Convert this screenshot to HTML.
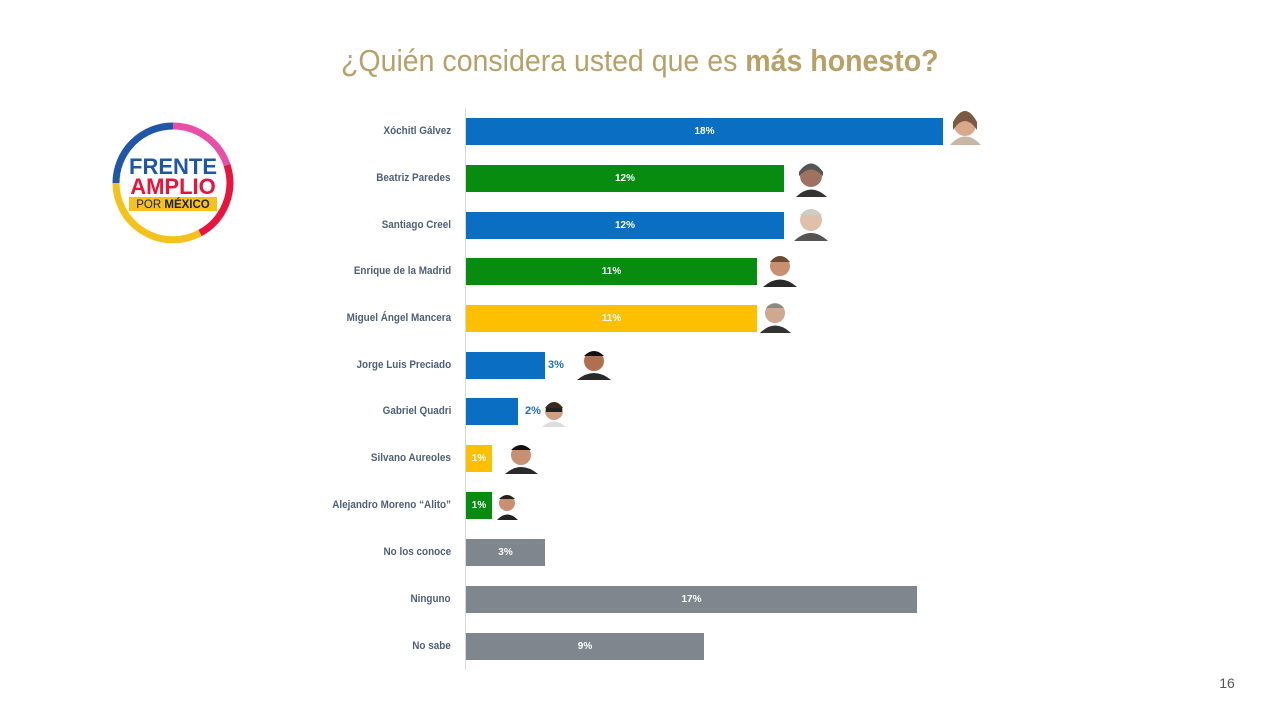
<!DOCTYPE html>
<html><head><meta charset="utf-8"><style>
body{margin:0;width:1280px;height:720px;background:#fff;position:relative;overflow:hidden;font-family:"Liberation Sans",sans-serif}
.t{position:absolute;left:0;width:1280px;top:43px;text-align:center;font-size:31px;color:#b8a169;white-space:nowrap}
.t span{display:inline-block;transform:scaleX(0.92)}
.lab{position:absolute;right:829px;font-size:11px;color:#4f5f78;white-space:nowrap;font-weight:bold;transform-origin:right center;transform:scaleX(0.9)}
.bar{position:absolute;left:466px;height:27px;color:#fff;font-size:10px;font-weight:bold;display:flex;align-items:center;justify-content:center}
.out{position:absolute;font-size:11px;font-weight:bold;color:#1d6fbf}
</style></head><body>
<div class="t"><span>¿Quién considera usted que es <b>más honesto?</b></span></div>
<svg style="position:absolute;left:110px;top:120px" width="126" height="126" viewBox="0 0 126 126">
<g fill="none" stroke-width="7">
<path d="M6 63 A57 57 0 0 1 63 6" stroke="#1f56a5"/>
<path d="M63 6 A57 57 0 0 1 117 45" stroke="#e94fa6"/>
<path d="M117 45 A57 57 0 0 1 90 113" stroke="#e8143c"/>
<path d="M90 113 A57 57 0 0 1 6 63" stroke="#f5c21b"/>
</g>
<text x="63" y="54" text-anchor="middle" font-size="22" font-weight="bold" fill="#1f56a5" font-family="Liberation Sans">FRENTE</text>
<text x="63" y="74" text-anchor="middle" font-size="22" font-weight="bold" fill="#e8143c" font-family="Liberation Sans">AMPLIO</text>
<rect x="19" y="77" width="88" height="14" fill="#f5c21b"/>
<text x="63" y="88" text-anchor="middle" font-size="11.5" fill="#222" font-family="Liberation Sans">POR <tspan font-weight="bold">MÉXICO</tspan></text>
</svg>
<div style="position:absolute;left:465px;top:108px;width:1px;height:562px;background:#d9d9d9"></div>

<div class="lab" style="top:125px">Xóchitl Gálvez</div>
<div class="lab" style="top:172px">Beatriz Paredes</div>
<div class="lab" style="top:219px">Santiago Creel</div>
<div class="lab" style="top:265px">Enrique de la Madrid</div>
<div class="lab" style="top:312px">Miguel Ángel Mancera</div>
<div class="lab" style="top:359px">Jorge Luis Preciado</div>
<div class="lab" style="top:405px">Gabriel Quadri</div>
<div class="lab" style="top:452px">Silvano Aureoles</div>
<div class="lab" style="top:499px">Alejandro Moreno “Alito”</div>
<div class="lab" style="top:546px">No los conoce</div>
<div class="lab" style="top:593px">Ninguno</div>
<div class="lab" style="top:640px">No sabe</div>

<div class="bar" style="top:118px;width:477px;background:#0a6fc2">18%</div>
<div class="bar" style="top:165px;width:318px;background:#078c10">12%</div>
<div class="bar" style="top:212px;width:318px;background:#0a6fc2">12%</div>
<div class="bar" style="top:258px;width:291px;background:#078c10">11%</div>
<div class="bar" style="top:305px;width:291px;background:#fcc000">11%</div>
<div class="bar" style="top:352px;width:79px;background:#0a6fc2"></div>
<div class="out" style="left:548px;top:359px">3%</div>
<div class="bar" style="top:398px;width:52px;background:#0a6fc2"></div>
<div class="out" style="left:525px;top:405px">2%</div>
<div class="bar" style="top:445px;width:26px;background:#fcc000">1%</div>
<div class="bar" style="top:492px;width:26px;background:#078c10">1%</div>
<div class="bar" style="top:539px;width:79px;background:#7f868d">3%</div>
<div class="bar" style="top:586px;width:451px;background:#7f868d">17%</div>
<div class="bar" style="top:633px;width:238px;background:#7f868d">9%</div>

<svg style="position:absolute;left:0;top:0" width="1280" height="720">
<g>
<circle cx="965" cy="125" r="11" fill="#d9a88a"/><path d="M950 145 Q965 128 981 145Z" fill="#c9b6a5"/><path d="M953 122 Q965 100 977 122 L977 130 Q965 112 953 130Z" fill="#7a5a40"/>
<circle cx="811" cy="176" r="11" fill="#a07060"/><path d="M796 197 Q811 182 827 197Z" fill="#333"/><path d="M799 172 Q811 155 823 172 L823 176 Q811 163 799 176Z" fill="#555"/>
<circle cx="811" cy="220" r="11" fill="#e0c0a8"/><path d="M794 241 Q811 225 828 241Z" fill="#555"/><path d="M800 215 Q811 204 822 215Z" fill="#ccc"/>
<circle cx="780" cy="266" r="10" fill="#c89070"/><path d="M763 287 Q780 272 797 287Z" fill="#2a2a2a"/><path d="M770 262 Q780 250 790 262Z" fill="#6a4a30"/>
<circle cx="775" cy="313" r="10" fill="#d0a890"/><path d="M760 333 Q775 318 791 333Z" fill="#333"/><path d="M766 308 Q775 299 784 308Z" fill="#888"/>
<circle cx="594" cy="361" r="10" fill="#b07050"/><path d="M577 380 Q594 366 611 380Z" fill="#2a2a2a"/><path d="M584 356 Q594 346 604 356Z" fill="#111"/>
<circle cx="554" cy="411" r="9" fill="#d0a080"/><path d="M542 427 Q554 416 566 427Z" fill="#ddd"/><rect x="546" y="408" width="16" height="4" fill="#222"/><path d="M545 408 Q554 396 563 408Z" fill="#3a2a20"/>
<circle cx="521" cy="455" r="10" fill="#c89070"/><path d="M505 474 Q521 460 538 474Z" fill="#2a2a2a"/><path d="M511 450 Q521 440 531 450Z" fill="#111"/>
<circle cx="507" cy="503" r="8" fill="#c89070"/><path d="M497 520 Q507 509 518 520Z" fill="#222"/><path d="M499 499 Q507 491 515 499Z" fill="#222"/>
</g>
<text x="1227" y="688" text-anchor="middle" font-size="14" fill="#555" font-family="Liberation Sans">16</text>
</svg>
</body></html>
